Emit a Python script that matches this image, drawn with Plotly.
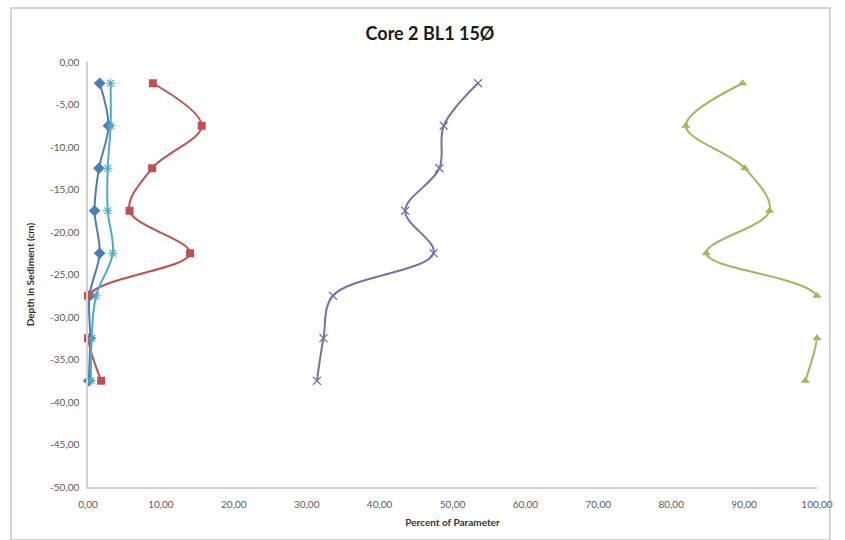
import plotly.graph_objects as go

# Sample depths (cm below sediment surface)
depth = [-2.5, -7.5, -12.5, -17.5, -22.5, -27.5, -32.5, -37.5]

# Percent of each parameter at every depth
blue_diamond = [1.6, 2.8, 1.5, 0.9, 1.6, 0.2, 0.3, 0.1]
red_square = [8.9, 15.6, 8.8, 5.7, 14.0, 0.0, 0.0, 1.8]
green_triangle = [89.8, 82.0, 90.1, 93.5, 84.8, 100.0, 100.0, 98.4]
purple_cross = [53.5, 48.8, 48.2, 43.5, 47.4, 33.6, 32.3, 31.4]
cyan_star = [3.1, 3.1, 2.7, 2.7, 3.4, 1.1, 0.5, 0.4]

x_ticks = [0, 10, 20, 30, 40, 50, 60, 70, 80, 90, 100]
x_tick_labels = ["0,00", "10,00", "20,00", "30,00", "40,00", "50,00",
                 "60,00", "70,00", "80,00", "90,00", "100,00"]
y_ticks = [0, -5, -10, -15, -20, -25, -30, -35, -40, -45, -50]
y_tick_labels = ["0,00", "-5,00", "-10,00", "-15,00", "-20,00", "-25,00",
                 "-30,00", "-35,00", "-40,00", "-45,00", "-50,00"]

series = [
    (blue_diamond, "#4A7EBB", "diamond", 9, 0),
    (red_square, "#C0504D", "square", 8, 0),
    (green_triangle, "#9BBB59", "triangle-up", 8, 0),
    (purple_cross, "#7470AE", "x-thin-open", 8, 1.2),
    (cyan_star, "#4BACC6", "asterisk-open", 8, 1.2),
]

fig = go.Figure()
for vals, color, symbol, size, mlw in series:
    fig.add_trace(go.Scatter(
        x=vals, y=depth, mode="lines+markers",
        line=dict(color=color, width=2, shape="spline", smoothing=1.0),
        marker=dict(symbol=symbol, size=size, color=color,
                    line=dict(color=color, width=mlw)),
        cliponaxis=False, showlegend=False,
    ))

font_family = "Lato, 'Open Sans', sans-serif"

fig.update_layout(
    width=845, height=540,
    margin=dict(l=88, r=20, t=62, b=53),
    paper_bgcolor="white", plot_bgcolor="white",
    title=dict(text="<b>Core 2 BL1 15Ø</b>", x=430 / 845, xanchor="center",
               y=1 - 34 / 540, yanchor="middle",
               font=dict(family=font_family, size=18, color="#1a1a1a")),
    font=dict(family=font_family, color="#595959"),
)

fig.update_xaxes(
    range=[0, 100], tickvals=x_ticks, ticktext=x_tick_labels,
    tickfont=dict(size=10, color="#595959"), ticklabelstandoff=7,
    showgrid=False, zeroline=False, showline=True, linecolor="#D0D0D0",
    linewidth=1.5, ticks="", ticklen=0,
    title=dict(text="<b>Percent of Parameter</b>", standoff=10,
               font=dict(size=10, color="#333333")),
)
fig.update_yaxes(
    range=[-50, 0], tickvals=y_ticks, ticktext=y_tick_labels,
    tickfont=dict(size=10, color="#595959"), ticklabelstandoff=5,
    showgrid=False, zeroline=False, showline=True, linecolor="#D0D0D0",
    linewidth=1.5, ticks="", ticklen=0,
    title=dict(text="<b>Depth in Sediment (cm)</b>", standoff=14,
               font=dict(size=10, color="#333333")),
)

# Chart-area frame
fig.add_shape(type="rect", xref="paper", yref="paper",
              x0=-78 / 737, x1=1 + 13 / 737, y0=-53 / 425, y1=1 + 54 / 425,
              line=dict(color="#C8C8C8", width=1.5), fillcolor="rgba(0,0,0,0)",
              layer="below")

fig.write_html("out.html")
